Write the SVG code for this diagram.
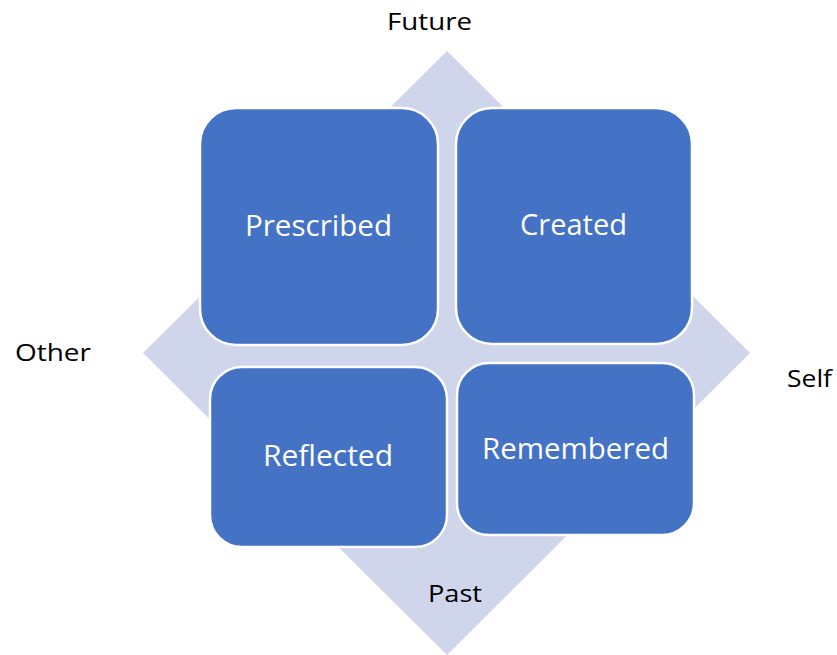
<svg xmlns="http://www.w3.org/2000/svg" width="837" height="655" viewBox="0 0 837 655">
  <style>
    .bg { fill: #ffffff; }
    .diamond { fill: #CFD5EA; }
    .box { fill: #4472C4; stroke: #ffffff; stroke-width: 2.5; }
    .boxtext { font-family: "Open Sans", "Noto Sans", sans-serif; font-size: 30px; fill: #ffffff; }
    .axis { font-family: "Open Sans", "Noto Sans", sans-serif; font-size: 24px; fill: #000000; }
  </style>
  <rect class="bg" x="0" y="0" width="837" height="655"/>

  <!-- background diamond with the four axis directions -->
  <g id="axes">
    <polygon class="diamond" points="447,51 750,353 447,655 143,353"/>
  </g>

  <g id="connectors"></g>

  <g id="label-future">
    <text class="axis" x="387" y="30" textLength="85" lengthAdjust="spacingAndGlyphs">Future</text>
  </g>
  <g id="label-other">
    <text class="axis" x="15" y="361" textLength="76" lengthAdjust="spacingAndGlyphs">Other</text>
  </g>
  <g id="label-self">
    <text class="axis" x="787" y="387" textLength="45" lengthAdjust="spacingAndGlyphs">Self</text>
  </g>

  <g id="node-prescribed">
    <rect class="box" x="200" y="108" width="238" height="237" rx="36" ry="36"/>
    <text class="boxtext" x="245" y="236" textLength="147" lengthAdjust="spacingAndGlyphs">Prescribed</text>
  </g>
  <g id="node-created">
    <rect class="box" x="456" y="108" width="236" height="236" rx="36" ry="36"/>
    <text class="boxtext" x="520" y="235" textLength="107" lengthAdjust="spacingAndGlyphs">Created</text>
  </g>
  <g id="node-reflected">
    <rect class="box" x="210" y="367" width="237" height="180" rx="32" ry="32"/>
    <text class="boxtext" x="263" y="466" textLength="130" lengthAdjust="spacingAndGlyphs">Reflected</text>
  </g>
  <g id="node-remembered">
    <rect class="box" x="457" y="363" width="237" height="172" rx="32" ry="32"/>
    <text class="boxtext" x="482" y="459" textLength="187" lengthAdjust="spacingAndGlyphs">Remembered</text>
  </g>

  <g id="label-past">
    <text class="axis" x="428" y="602" textLength="54" lengthAdjust="spacingAndGlyphs">Past</text>
  </g>
</svg>
